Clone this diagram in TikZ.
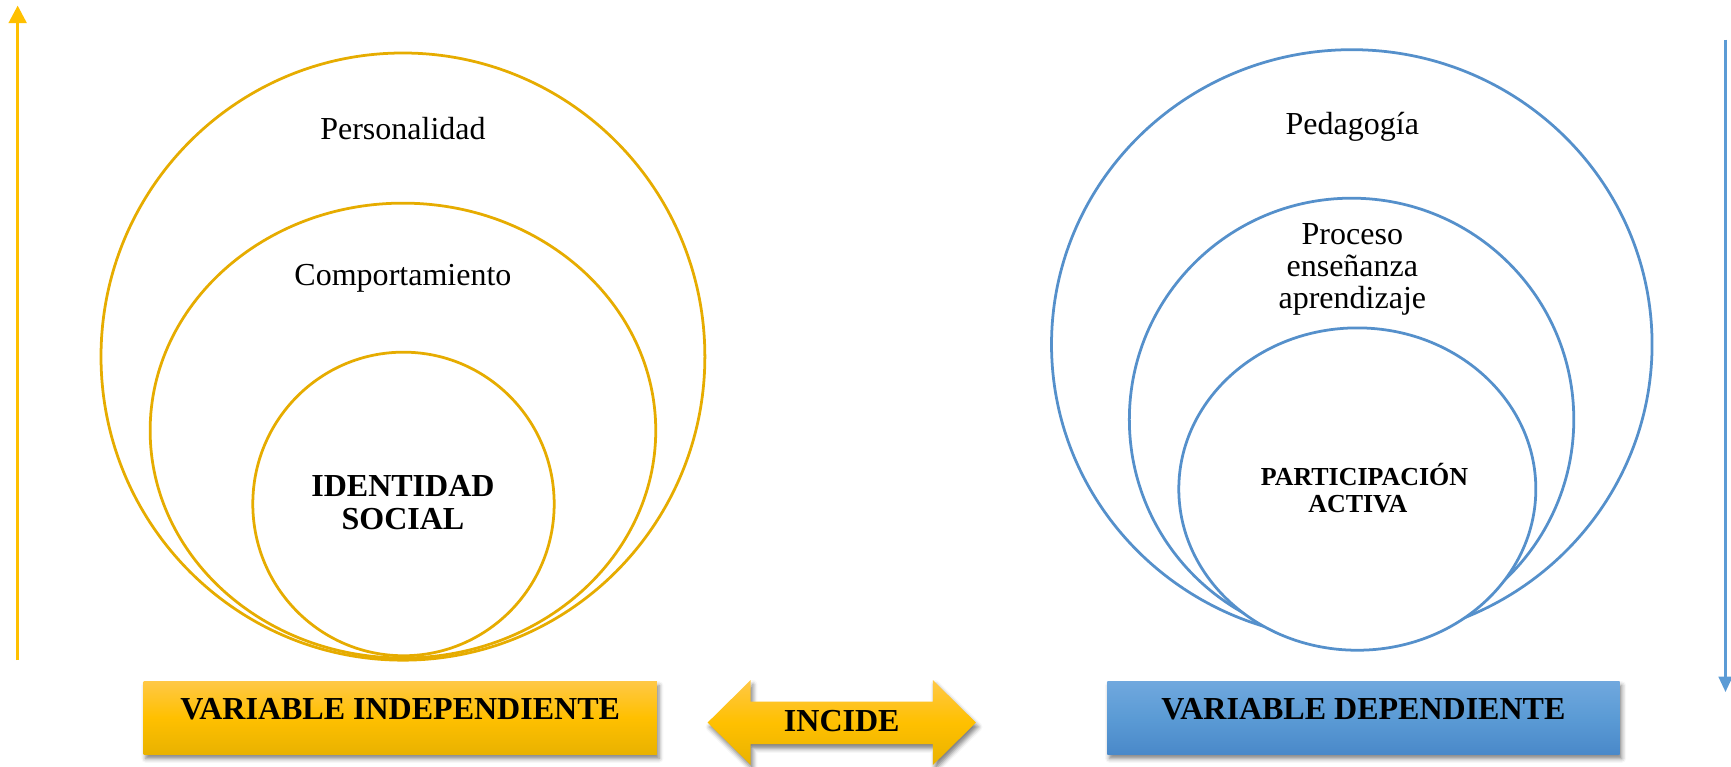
\documentclass[tikz,border=0pt]{standalone}
\usepackage{fontspec}
\setmainfont{Liberation Serif}
\usetikzlibrary{arrows.meta,shadows.blur}
\definecolor{goldline}{HTML}{E6AC00}
\definecolor{goldarrow}{HTML}{FFC000}
\definecolor{goldtop}{HTML}{FFC846}
\definecolor{goldmid}{HTML}{FFC000}
\definecolor{goldbot}{HTML}{E9B200}
\definecolor{blueline}{HTML}{5590CB}
\definecolor{bluearrow}{HTML}{5B9BD5}
\definecolor{bluetop}{HTML}{70A8DE}
\definecolor{bluemid}{HTML}{5B9BD5}
\definecolor{bluebot}{HTML}{4A89C9}
\begin{document}
\begin{tikzpicture}[x=1pt,y=-1pt,
  ring/.style={line width=2.5pt, fill=white},
  gring/.style={ring, draw=goldline},
  bring/.style={ring, draw=blueline},
  lbl/.style={anchor=base, inner sep=0pt, font=\fontsize{29}{29}\selectfont},
  blbl/.style={anchor=base, inner sep=0pt, font=\fontsize{29}{29}\selectfont\bfseries},
  sblbl/.style={anchor=base, inner sep=0pt, font=\fontsize{23.5}{23.5}\selectfont\bfseries},
  shad/.style={blur shadow={shadow xshift=2pt, shadow yshift=-4pt, shadow blur radius=4pt, shadow opacity=50}},
  varbox/.style={rectangle, shad, minimum width=#1, inner xsep=0pt, inner ysep=0pt, text height=35pt, text depth=31pt, font=\fontsize{29}{29}\selectfont\bfseries},
  goldfill/.style={top color=goldtop, bottom color=goldbot, middle color=goldmid},
  bluefill/.style={top color=bluetop, bottom color=bluebot, middle color=bluemid},
]
\useasboundingbox (0,0) rectangle (1568,694);

% vertical arrows
\coordinate (la0) at (16,598);
\coordinate (la1) at (16,5);
\draw[goldarrow, line width=3pt, -{Triangle[length=16pt,width=16pt]}] (la0) -- (la1);
\coordinate (ra0) at (1563,36);
\coordinate (ra1) at (1563,627);
\draw[bluearrow, line width=3pt, -{Triangle[length=14pt,width=12pt]}] (ra0) -- (ra1);

% left nested circles
\draw[gring] (365,323) ellipse [x radius=273.5pt, y radius=275pt];
\draw[gring] (365,390) ellipse [x radius=229pt, y radius=206pt];
\draw[gring] (365.5,456.5) ellipse [x radius=136.5pt, y radius=137.5pt];

% right nested circles
\draw[bring] (1224.5,312) ellipse [x radius=272pt, y radius=267pt];
\draw[bring] (1224.3,380) ellipse [x radius=201.3pt, y radius=200.5pt];
\draw[bring] (1229.5,443) ellipse [x radius=161.7pt, y radius=146pt];

% labels left
\node[lbl] (pers) at (365,126.5) {Personalidad};
\node[lbl] (comp) at (365,259) {Comportamiento};
\node[blbl] (id1) at (365,449.7) {IDENTIDAD};
\node[blbl] (id2) at (365,480) {SOCIAL};

% labels right
\node[lbl] (ped) at (1225,121.5) {Pedagogía};
\node[lbl] (pr1) at (1225,221.3) {Proceso};
\node[lbl] (pr2) at (1225,250.8) {enseñanza};
\node[lbl] (pr3) at (1225,279.7) {aprendizaje};
\node[sblbl] (pa1) at (1236,439.4) {PARTICIPACIÓN};
\node[sblbl] (pa2) at (1230,464.5) {ACTIVA};

% bottom boxes
\node[varbox=465pt, goldfill] (vi) at (362.5,650) {VARIABLE INDEPENDIENTE};
\node[varbox=464pt, bluefill] (vd) at (1235,650) {VARIABLE DEPENDIENTE};

% double arrow INCIDE
\path[goldfill, shad] (641,654.5) -- (680,616) -- (680,635.5) -- (845,635.5) -- (845,616) -- (884,654.5) -- (845,693) -- (845,674) -- (680,674) -- (680,693) -- cycle;
\node[blbl] (inc) at (762.5,662.8) {INCIDE};
\end{tikzpicture}
\end{document}
